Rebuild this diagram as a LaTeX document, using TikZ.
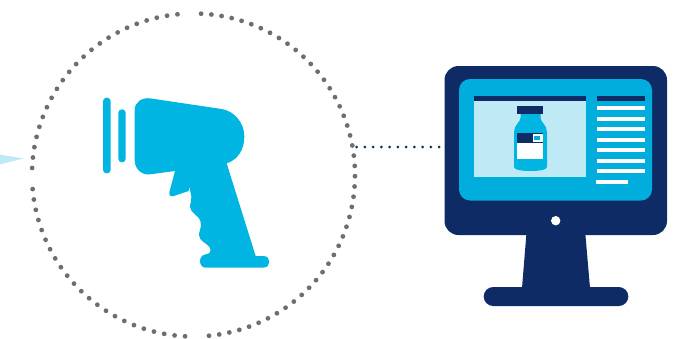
\documentclass[tikz,border=0pt]{standalone}
\definecolor{navy}{HTML}{0F2B66}
\definecolor{cyanA}{HTML}{00B5E2}
\definecolor{cyanB}{HTML}{00ADDC}
\definecolor{paleC}{HTML}{BFEAF5}
\definecolor{dotG}{HTML}{6D6E71}
\tikzset{
  ringdot/.style={fill=dotG,draw=none},
  linkdots/.style={navy,line width=3pt,line cap=round,dash pattern=on 0pt off 8.25pt},
  navyfill/.style={fill=navy,draw=none},
  whitefill/.style={fill=white,draw=none},
  scanfill/.style={fill=cyanA,draw=none},
}
\begin{document}
\begin{tikzpicture}[x=1pt,y=-1pt]
\useasboundingbox (0,0) rectangle (690,338);
% pale beam
\fill[paleC] (-1,154.5) -- (24,158.5) -- (-1,164.5) -- cycle;
% dotted ring
\foreach \i in {0,...,47} \fill[ringdot] ({193.5+161.5*cos(-87.3+\i*3.655)},{175+161.5*sin(-87.3+\i*3.655)}) circle (2.4);
\foreach \i in {0,...,22} \fill[ringdot] ({193.5+161.5*cos(93+\i*3.727)},{175+161.5*sin(93+\i*3.727)}) circle (2.4);
\foreach \i in {0,...,22} \fill[ringdot] ({193.5+161.5*cos(182.5+\i*3.718)},{175+161.5*sin(182.5+\i*3.718)}) circle (2.4);
% scanner
\begin{scope}[shift={(90,85)},x=0.33333pt,y=-0.33333pt]
\fill[scanfill,rounded corners=3.5pt] (39,38) rectangle (62,265);
\fill[scanfill,rounded corners=3.5pt] (85,73) rectangle (107,232);
\fill[scanfill] (134,75) .. controls (134,52) and (155,37) .. (180,40)
  -- (395,72) .. controls (432,78) and (463,112) .. (463,155)
  .. controls (463,192) and (445,224) .. (410,235)
  -- (497,513) -- (520,513) .. controls (544,513) and (544,548) .. (520,548)
  -- (347,548) .. controls (325,548) and (324,510) .. (347,508)
  .. controls (360,507) and (366,497) .. (358,486)
  .. controls (350,474) and (327,468) .. (327,450)
  .. controls (327,438) and (335,430) .. (332,410)
  .. controls (329,392) and (300,385) .. (300,365)
  .. controls (300,352) and (307,345) .. (304,335)
  -- (298,305) -- (296,318) -- (248,334)
  .. controls (240,336) and (236,330) .. (238,322)
  -- (255,258) -- (180,268)
  .. controls (155,271) and (134,252) .. (134,225) -- cycle;
\end{scope}
% monitor
\coordinate (scanR) at (356.7,147);
\coordinate (monL) at (452,147);
\draw[linkdots] (scanR) -- (monL);
\fill[navyfill] (526.7,230) -- (585,230) -- (590,288) -- (522,288) -- cycle;
\fill[navyfill,rounded corners=9.5pt] (483.7,287) rectangle (628.3,306);
\fill[navyfill,rounded corners=14pt] (444.5,66) rectangle (667,235);
\fill[cyanB,rounded corners=11pt] (459,79) rectangle (652,200.5);
\fill[whitefill] (555.7,220.7) circle (4.7);
% window
\fill[paleC] (474,96) rectangle (586,177);
\fill[navyfill] (474,96) rectangle (586,101);
\fill[navyfill] (597,96) rectangle (645,101);
\foreach \yy in {106,117,127,138,148,159,169} \fill[whitefill] (597,\yy) rectangle (645,\yy+4);
\fill[whitefill] (596,180) rectangle (628,184);
% bottle
\fill[scanfill] (520.5,114) -- (540.5,114) -- (540.5,118)
  .. controls (540.5,122) and (547,125) .. (547,132)
  -- (547,167) .. controls (547,170) and (538,171) .. (530.5,171)
  .. controls (523,171) and (514,170) .. (514,167)
  -- (514,132) .. controls (514,125) and (520.5,122) .. (520.5,118) -- cycle;
\fill[navyfill] (517,106) rectangle (543,114);
\fill[whitefill] (517,143) rectangle (543,159);
\fill[navyfill] (517,133) rectangle (543,143);
\fill[whitefill] (533,133.5) rectangle (542.5,141.5);
\fill[cyanB] (534.3,136) rectangle (540.3,140);
\end{tikzpicture}
\end{document}
